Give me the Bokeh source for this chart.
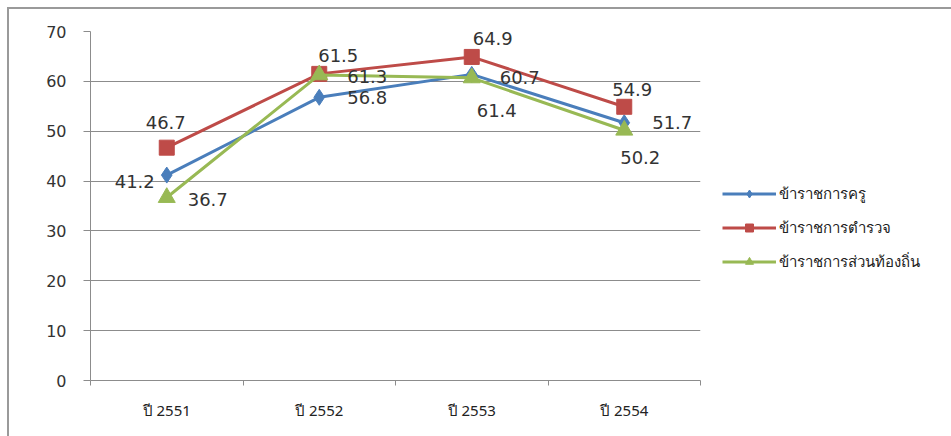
from bokeh.plotting import figure
from bokeh.models import (Range1d, LinearAxis, FixedTicker, Legend, LegendItem,
                          ColumnDataSource, LabelSet)
from bokeh.embed import file_html
from bokeh.resources import INLINE
from bokeh.core.properties import value

# Survey results by year for three groups of civil servants
years = ["ปี 2551", "ปี 2552", "ปี 2553", "ปี 2554"]
teachers = [41.2, 56.8, 61.4, 51.7]
police = [46.7, 61.5, 64.9, 54.9]
local_gov = [36.7, 61.3, 60.7, 50.2]
series_names = ["ข้าราชการครู", "ข้าราชการตำรวจ", "ข้าราชการส่วนท้องถิ่น"]
y_ticks = [0, 10, 20, 30, 40, 50, 60, 70]

# pixel offsets of each value label from its point (right, up)
teachers_dx = [-32, 48, 25, 48]
teachers_dy = [-6, 0, -36, 0]
police_dx = [-1, 19, 21, 8]
police_dy = [25, 18, 18, 17]
local_dx = [41, 48, 48, 16]
local_dy = [-2, -2, 0, -27]

BLUE = "#4A7EBB"
RED = "#BE4B48"
GREEN = "#98B954"
GRAY = "#8C8C8C"
LABEL_FONT = "DejaVu Sans"
THAI_FONT = "Noto Sans"

# each year occupies one unit-wide slot; points sit in the middle of their slot
n = len(years)
slot_centres = [i + 0.5 for i in range(n)]
slot_edges = list(range(n + 1))

p = figure(frame_width=610, frame_height=349, x_range=Range1d(0, n), y_range=Range1d(0, 70),
           output_backend="svg", toolbar_location=None, x_axis_type=None,
           min_border_left=90, min_border_right=251, min_border_top=31, min_border_bottom=56)
p.background_fill_color = "white"
p.border_fill_alpha = 0
p.outline_line_color = None
# outer frame of the chart: grey rules along the top and left, drawn behind the canvas
p.styles = {
    "background-color": "white",
    "background-image": "linear-gradient(#9a9a9a, #9a9a9a), linear-gradient(#9a9a9a, #9a9a9a)",
    "background-size": "2px 100%, 100% 2px",
    "background-position": "7px 7px, 7px 7px",
    "background-repeat": "no-repeat",
}

# y axis and horizontal grid
p.yaxis.ticker = FixedTicker(ticks=y_ticks)
p.yaxis.axis_line_color = GRAY
p.yaxis.major_tick_line_color = GRAY
p.yaxis.major_tick_out = 7
p.yaxis.major_tick_in = 0
p.yaxis.minor_tick_line_color = None
p.yaxis.major_label_standoff = 17
p.yaxis.major_label_text_font = LABEL_FONT
p.yaxis.major_label_text_font_size = "16px"
p.yaxis.major_label_text_color = "#333333"
p.ygrid.ticker = FixedTicker(ticks=y_ticks)
p.ygrid.grid_line_color = GRAY
p.ygrid.grid_line_width = 1
p.xgrid.grid_line_color = None

# x axis: tick marks at slot boundaries ...
tick_axis = LinearAxis(ticker=FixedTicker(ticks=slot_edges))
tick_axis.axis_line_color = GRAY
tick_axis.major_tick_line_color = GRAY
tick_axis.major_tick_out = 5
tick_axis.major_tick_in = 0
tick_axis.minor_tick_line_color = None
tick_axis.major_label_text_font_size = "1px"
tick_axis.major_label_text_alpha = 0
tick_axis.major_label_standoff = 0
p.add_layout(tick_axis, "below")

# ... and year labels in the middle of each slot
cat_axis = LinearAxis(ticker=FixedTicker(ticks=slot_centres),
                      major_label_overrides={c: y for c, y in zip(slot_centres, years)})
cat_axis.axis_line_color = None
cat_axis.major_tick_line_color = None
cat_axis.minor_tick_line_color = None
cat_axis.major_label_standoff = 8
cat_axis.major_label_text_font = THAI_FONT
cat_axis.major_label_text_font_size = "15px"
cat_axis.major_label_text_color = "#222222"
p.add_layout(cat_axis, "below")


def draw_series(vals, color, marker, size, dx, dy):
    src = ColumnDataSource(dict(x=slot_centres, y=vals, txt=[f"{v:.1f}" for v in vals],
                                dx=dx, dy=dy))
    line = p.line("x", "y", source=src, line_color=color, line_width=3)
    mk = p.scatter("x", "y", source=src, marker=marker, size=size,
                   fill_color=color, line_color=color)
    labels = LabelSet(x="x", y="y", text="txt", x_offset="dx", y_offset="dy", source=src,
                      text_font=value(LABEL_FONT), text_font_size="18px", text_color="#333333",
                      text_align="center", text_baseline="middle")
    p.add_layout(labels)
    return [line, mk]


r_teach = draw_series(teachers, BLUE, "diamond", 16, teachers_dx, teachers_dy)
r_police = draw_series(police, RED, "square", 15, police_dx, police_dy)
r_local = draw_series(local_gov, GREEN, "triangle", 17, local_dx, local_dy)

legend = Legend(items=[LegendItem(label=series_names[0], renderers=r_teach),
                       LegendItem(label=series_names[1], renderers=r_police),
                       LegendItem(label=series_names[2], renderers=r_local)],
                location="center_left", orientation="vertical")
# a blank title pushes the entries down below the frame's middle
legend.title = " "
legend.title_text_font_size = "18px"
legend.title_standoff = 22
legend.glyph_width = 54
legend.glyph_height = 20
legend.label_height = 20
legend.label_standoff = 3
legend.spacing = 10
legend.padding = 0
legend.margin = 22
legend.border_line_color = None
legend.background_fill_alpha = 0
legend.label_text_font = THAI_FONT
legend.label_text_font_size = "15px"
legend.label_text_color = "#222222"
p.add_layout(legend, "right")

open("out.html", "w").write(file_html(p, INLINE))
